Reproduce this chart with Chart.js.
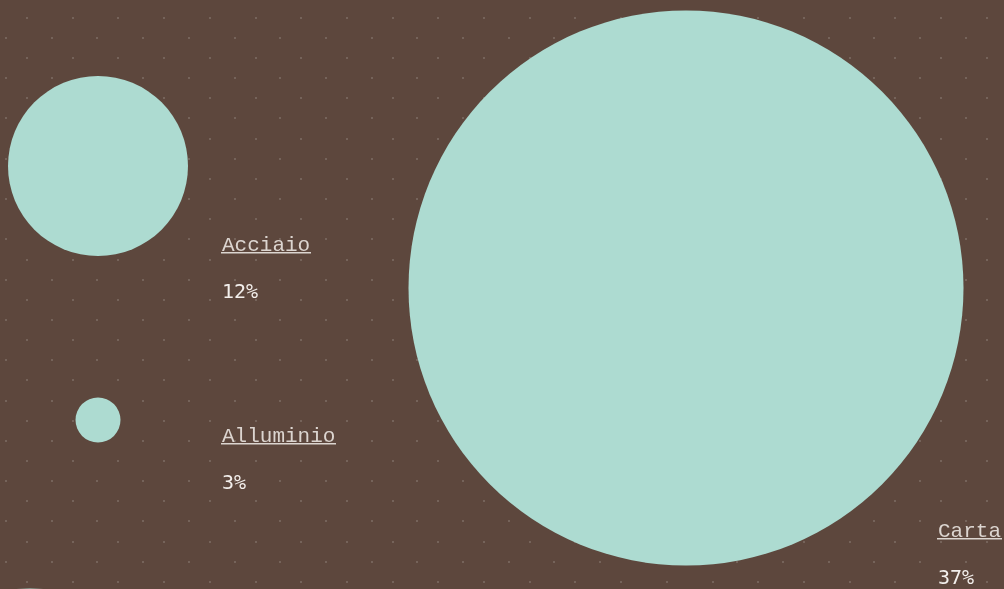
<!DOCTYPE html>
<html>
<head>
<meta charset="utf-8">
<script src="https://cdn.jsdelivr.net/npm/chart.js@4/dist/chart.umd.min.js"></script>
<style>
  html, body { margin: 0; padding: 0; background: #5d473d; }
  #wrap { width: 1004px; height: 589px; position: relative; }
</style>
</head>
<body>
<div id="wrap"><canvas id="chart" width="1004" height="589"></canvas></div>
<script>
// Packaging materials and their share (%)
const categories = ['Acciaio', 'Alluminio', 'Carta', 'Vetro'];
const shares = [12, 3, 37, 20];
const shareLabels = ['12%', '3%', '37%', '20%'];

// Layout of the bubble field (scale units) and label anchors
const posX = [98, 98, 686, 30];
const posY = [166, 420, 288, 738.4];
const labelX = [222, 222, 938, 160];
const labelY = [251, 442, 537, 900];
const PX_PER_POINT = 7.5; // bubble radius per percentage point

const BG = '#5d473d';
const BUBBLE = '#addbd1';
const NAME_COLOR = '#dcd5d0';
const PCT_COLOR = '#f3efec';

const points = categories.map((c, i) => ({ x: posX[i], y: posY[i], v: shares[i] }));

// Dotted backdrop behind the bubbles
const backdrop = {
  id: 'backdrop',
  beforeDraw(chart) {
    const { ctx, width, height } = chart;
    ctx.save();
    ctx.fillStyle = BG;
    ctx.fillRect(0, 0, width, height);
    ctx.fillStyle = '#75635a';
    const stepX = 45.7, stepY = 20.15;
    for (let n = -1; n * stepY + 17.7 < height + 2; n++) {
      const y = 17.7 + n * stepY;
      const x0 = (Math.abs(n) % 2 === 0) ? 27 : 6;
      for (let x = x0; x < width + 2; x += stepX) {
        ctx.fillRect(Math.round(x) - 1, Math.round(y) - 1, 2, 2);
      }
    }
    ctx.restore();
  }
};

// Name (underlined) and share text next to each bubble
const labels = {
  id: 'labels',
  afterDatasetsDraw(chart) {
    const { ctx } = chart;
    const xs = chart.scales.x, ys = chart.scales.y;
    ctx.save();
    ctx.textBaseline = 'alphabetic';
    ctx.textAlign = 'left';
    categories.forEach((name, i) => {
      const lx = xs.getPixelForValue(labelX[i]);
      const ly = ys.getPixelForValue(labelY[i]);
      ctx.font = '21px "Liberation Mono", monospace';
      ctx.fillStyle = NAME_COLOR;
      ctx.fillText(name, lx, ly);
      const w = ctx.measureText(name).width;
      ctx.fillStyle = NAME_COLOR;
      ctx.fillRect(Math.round(lx) - 1, Math.round(ly) + 1, Math.round(w) + 2, 1.5);
      ctx.font = '20px "DejaVu Sans Mono", monospace';
      ctx.fillStyle = PCT_COLOR;
      ctx.fillText(shareLabels[i], lx, ly + 47);
    });
    ctx.restore();
  }
};

new Chart(document.getElementById('chart'), {
  type: 'bubble',
  data: {
    labels: categories,
    datasets: [{
      data: points,
      backgroundColor: BUBBLE,
      borderWidth: 0,
      hoverBorderWidth: 0,
      radius: (c) => c.raw ? c.raw.v * PX_PER_POINT : 0,
      hoverRadius: 0,
      clip: false
    }]
  },
  options: {
    responsive: false,
    animation: false,
    events: [],
    layout: { padding: 0, autoPadding: false },
    plugins: { legend: { display: false }, tooltip: { enabled: false } },
    scales: {
      x: { type: 'linear', min: 0, max: 1004, display: false },
      y: { type: 'linear', min: 0, max: 589, reverse: true, display: false }
    }
  },
  plugins: [backdrop, labels]
});
</script>
</body>
</html>
